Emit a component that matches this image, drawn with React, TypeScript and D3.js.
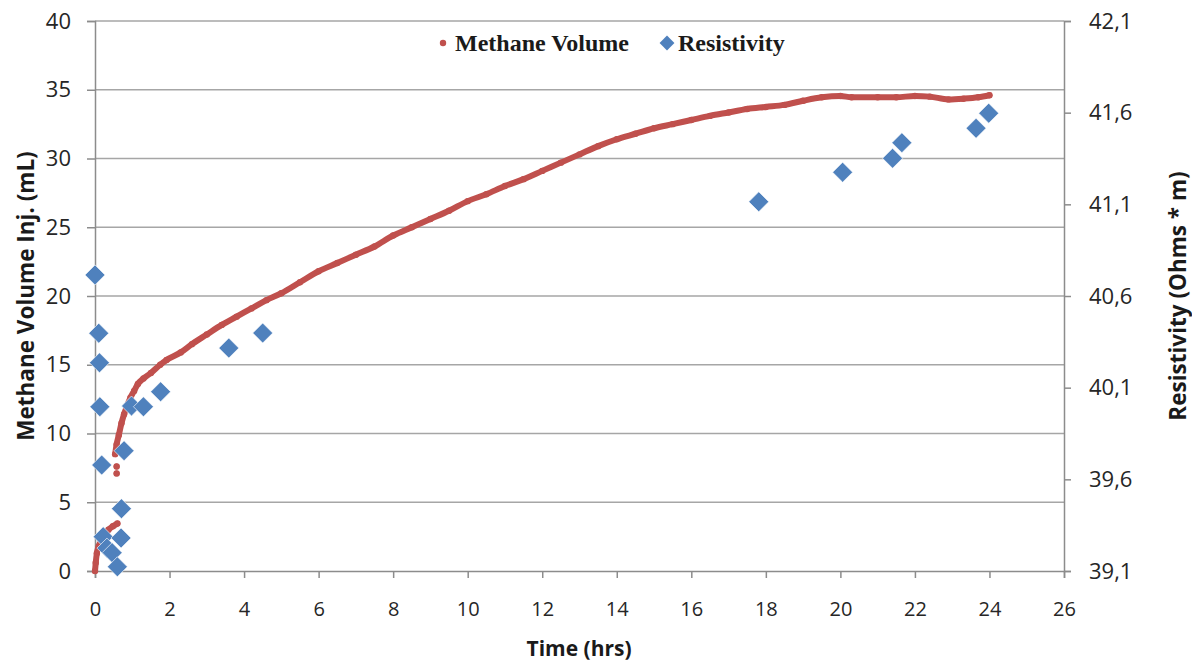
import React, { useRef, useEffect } from "react";
import * as d3 from "d3";

// Methane volume injected (mL) vs time (hrs). NaN marks a break in the trace.
const methaneTime = [
  0, 0.02, 0.05, 0.1, 0.18, 0.27, 0.36, 0.48, 0.6, NaN,
  0.58, NaN,
  0.58, NaN,
  0.54, 0.58, 0.64, 0.71, 0.78, 0.85, 0.95, 1.05, 1.15, 1.3, 1.5, 1.75, 1.92,
  2.3, 2.6, 3.0, 3.4, 3.8, 4.2, 4.6, 5.0, 5.5, 6.0, 6.5, 7.0, 7.5, 8.0, 8.5,
  9.0, 9.5, 10.0, 10.5, 11.0, 11.5, 12.0, 12.5, 13.0, 13.5, 14.0, 14.5, 15.0,
  15.5, 16.0, 16.5, 17.0, 17.5, 18.0, 18.5, 19.0, 19.5, 20.0, 20.3, 21.0, 21.5,
  22.0, 22.4, 22.9, 23.3, 23.7, 24.0,
];
const methaneVolume = [
  0, 0.6, 1.3, 1.8, 2.25, 2.65, 3.0, 3.25, 3.45, NaN,
  7.1, NaN,
  7.6, NaN,
  8.5, 9.2, 9.9, 10.75, 11.4, 11.95, 12.6, 13.1, 13.6, 14.0, 14.4, 15.0, 15.35,
  15.9, 16.5, 17.2, 17.9, 18.5, 19.1, 19.7, 20.2, 21.0, 21.8, 22.4, 23.0, 23.6,
  24.4, 25.0, 25.6, 26.2, 26.9, 27.4, 28.0, 28.5, 29.1, 29.7, 30.3, 30.9, 31.4,
  31.8, 32.2, 32.5, 32.8, 33.1, 33.35, 33.6, 33.75, 33.9, 34.2, 34.45, 34.55,
  34.45, 34.45, 34.45, 34.55, 34.5, 34.3, 34.35, 34.45, 34.6,
];

// Resistivity (Ohms * m) vs time (hrs)
const resistivityTime = [
  0, 0.1, 0.12, 0.13, 0.18, 0.22, 0.32, 0.46, 0.6, 0.7, 0.71, 0.78, 0.98, 1.3,
  1.76, 3.59, 4.5, 17.81, 20.06, 21.4, 21.65, 23.64, 23.98,
];
const resistivityValue = [
  40.715, 40.397, 40.236, 39.996, 39.678, 39.287, 39.225, 39.2, 39.123, 39.28,
  39.44, 39.756, 40.0, 39.996, 40.078, 40.316, 40.398, 41.114, 41.275, 41.351,
  41.436, 41.515, 41.597,
];

const xTicks = d3.range(0, 27, 2);
const yLeftTicks = d3.range(0, 41, 5);
const yRightTicks = [39.1, 39.6, 40.1, 40.6, 41.1, 41.6, 42.1];

const RED = "#C0504D";
const BLUE = "#4F81BD";

const App = () => {
  const svgRef = useRef<SVGSVGElement>(null);
  const width = 1192;
  const height = 663;

  useEffect(() => {
    const svg = d3.select(svgRef.current);
    svg.selectAll("*").remove();

    const margin = { top: 21, right: 128, bottom: 92, left: 95 };
    const x = d3.scaleLinear().domain([0, 26]).range([margin.left, width - margin.right]);
    const yL = d3.scaleLinear().domain([0, 40]).range([height - margin.bottom, margin.top]);
    const yR = d3.scaleLinear().domain([39.1, 42.1]).range([height - margin.bottom, margin.top]);

    const font = "'Open Sans', 'DejaVu Sans', sans-serif";
    const x0 = x(0), x1 = x(26), yb = yL(0);

    // gridlines
    svg.append("g")
      .selectAll("line")
      .data(yLeftTicks.filter(d => d > 0))
      .enter()
      .append("line")
      .attr("x1", x0).attr("x2", x1)
      .attr("y1", d => yL(d)).attr("y2", d => yL(d))
      .attr("stroke", "#A6A6A6")
      .attr("stroke-width", 1.5);

    // left axis
    const left = svg.append("g").attr("transform", `translate(${x0},0)`)
      .call(d3.axisLeft(yL).tickValues(yLeftTicks).tickSize(8).tickPadding(16).tickFormat(d3.format("d")));
    // bottom axis
    const bottom = svg.append("g").attr("transform", `translate(0,${yb})`)
      .call(d3.axisBottom(x).tickValues(xTicks).tickSize(7).tickPadding(24).tickFormat(d3.format("d")));
    // right axis
    const right = svg.append("g").attr("transform", `translate(${x1},0)`)
      .call(d3.axisRight(yR).tickValues(yRightTicks).tickSize(7).tickPadding(18)
        .tickFormat(d => d3.format(".1f")(d as number).replace(".", ",")));

    [left, bottom, right].forEach(g => {
      g.select(".domain").attr("stroke", "#8C8C8C").attr("stroke-width", 1.5);
      g.selectAll(".tick line").attr("stroke", "#8C8C8C").attr("stroke-width", 1.5);
      g.selectAll(".tick text")
        .attr("fill", "#262626")
        .style("font-family", font)
        .style("font-size", "22px");
    });
    bottom.selectAll(".tick text").style("font-size", "20px");

    // axis titles
    svg.append("text")
      .attr("transform", `translate(34,${(yL(0) + yL(40)) / 2}) rotate(-90)`)
      .attr("text-anchor", "middle")
      .style("font-family", font).style("font-weight", "bold").style("font-size", "22.5px")
      .attr("fill", "#1a1a1a")
      .text("Methane Volume Inj. (mL)");
    svg.append("text")
      .attr("transform", `translate(1186,${(yL(0) + yL(40)) / 2}) rotate(-90)`)
      .attr("text-anchor", "middle")
      .style("font-family", font).style("font-weight", "bold").style("font-size", "22.5px")
      .attr("fill", "#1a1a1a")
      .text("Resistivity (Ohms * m)");
    svg.append("text")
      .attr("x", 579).attr("y", 656)
      .attr("text-anchor", "middle")
      .style("font-family", font).style("font-weight", "bold").style("font-size", "21px")
      .attr("fill", "#1a1a1a")
      .text("Time (hrs)");

    // methane series: thick dotted trace
    const methane = methaneTime.map((t, i) => ({ t, v: methaneVolume[i] }));
    const line = d3.line<{ t: number; v: number }>()
      .defined(d => !isNaN(d.t) && !isNaN(d.v))
      .x(d => x(d.t))
      .y(d => yL(d.v))
      .curve(d3.curveMonotoneX);
    svg.append("path")
      .datum(methane)
      .attr("d", line)
      .attr("fill", "none")
      .attr("stroke", RED)
      .attr("stroke-width", 6)
      .attr("stroke-linecap", "round")
      .attr("stroke-linejoin", "round");
    svg.append("g")
      .selectAll("circle")
      .data(methane.filter(d => !isNaN(d.t)))
      .enter()
      .append("circle")
      .attr("cx", d => x(d.t))
      .attr("cy", d => yL(d.v))
      .attr("r", 3.2)
      .attr("fill", RED);

    // resistivity series: diamonds
    const diamond = d3.symbol().type(d3.symbolSquare).size(200);
    svg.append("g")
      .selectAll("path")
      .data(resistivityTime.map((t, i) => ({ t, r: resistivityValue[i] })))
      .enter()
      .append("path")
      .attr("d", diamond)
      .attr("transform", d => `translate(${x(d.t)},${yR(d.r)}) rotate(45)`)
      .attr("fill", BLUE)
      .attr("stroke", "#ffffff")
      .attr("stroke-width", 0.6);

    // legend
    const legend = svg.append("g").style("font-family", "'Liberation Serif', 'Times New Roman', serif")
      .style("font-weight", "bold").style("font-size", "24px");
    legend.append("circle").attr("cx", 443).attr("cy", 43).attr("r", 3.2).attr("fill", RED);
    legend.append("text").attr("x", 455).attr("y", 51).attr("fill", "#1a1a1a").text("Methane Volume");
    legend.append("path")
      .attr("d", d3.symbol().type(d3.symbolSquare).size(110))
      .attr("transform", "translate(667,43) rotate(45)")
      .attr("fill", BLUE);
    legend.append("text").attr("x", 678).attr("y", 51).attr("fill", "#1a1a1a").text("Resistivity");
  }, []);

  return (
    <svg
      ref={svgRef}
      width={width}
      height={height}
      style={{ position: "absolute", left: 0, top: 0, background: "#ffffff" }}
    />
  );
};

export default App;
